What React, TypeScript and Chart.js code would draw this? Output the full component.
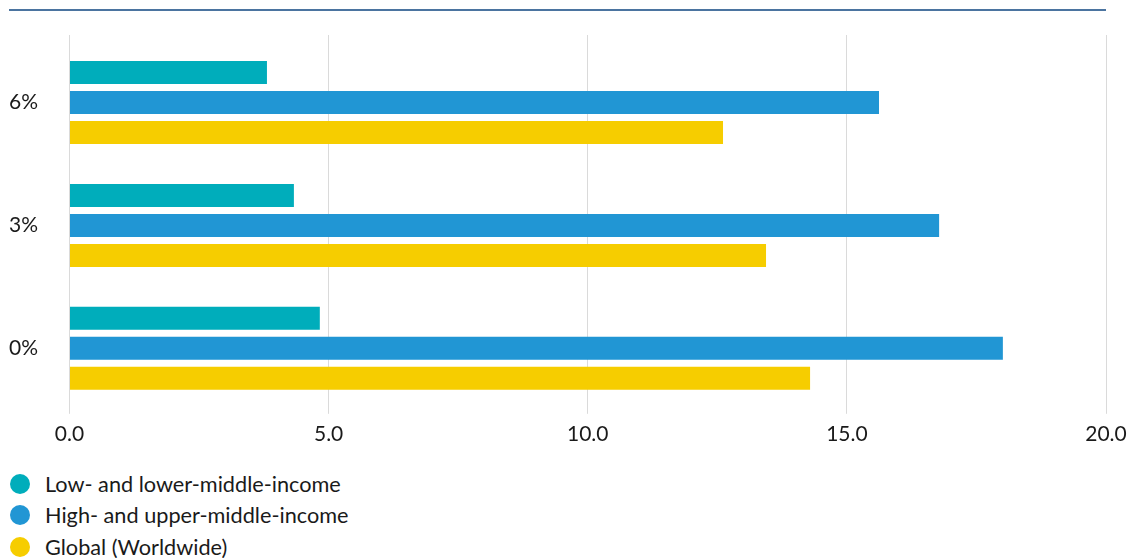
import React, { useEffect, useRef } from 'react';
import { Chart, registerables } from 'chart.js';

Chart.register(...registerables);

const categories = ['6%', '3%', '0%'];
const seriesNames = [
  'Low- and lower-middle-income',
  'High- and upper-middle-income',
  'Global (Worldwide)',
];
const lowIncome = [3.81, 4.33, 4.83];
const highIncome = [15.62, 16.78, 18.01];
const globalValues = [12.61, 13.44, 14.29];
const seriesColors = ['#00adbb', '#2196d4', '#f6cd00'];

const FONT = 'Lato, "Noto Sans", sans-serif';
const TEXT = '#1a1a1a';
const GRID = '#dadada';
const FS = 21;

export default function App() {
  const ref = useRef<HTMLCanvasElement>(null);

  useEffect(() => {
    document.body.style.margin = '0';
    const values = [lowIncome, highIncome, globalValues];
    const chart = new Chart(ref.current!, {
      type: 'bar',
      data: {
        labels: categories,
        datasets: seriesNames.map((name, i) => ({
          label: name,
          data: values[i],
          backgroundColor: seriesColors[i],
          borderWidth: 0,
          categoryPercentage: 0.7317,
          barPercentage: 0.7667,
        })),
      },
      options: {
        indexAxis: 'y',
        responsive: false,
        animation: false,
        layout: { padding: { top: 35, left: 9, right: 22, bottom: 10 } },
        plugins: { legend: { display: false }, tooltip: { enabled: false } },
        scales: {
          x: {
            type: 'linear',
            position: 'bottom',
            min: 0,
            max: 20,
            ticks: {
              stepSize: 5,
              padding: 8,
              color: TEXT,
              font: { family: FONT, size: FS },
              callback: (v: any) => Number(v).toFixed(1),
            },
            grid: { color: GRID, tickColor: GRID, tickLength: 4, lineWidth: 1 },
            border: { display: false },
            afterFit: (s: any) => {
              s.paddingRight = 0;
              s.paddingLeft = 0;
            },
          },
          x2: {
            type: 'linear',
            axis: 'x',
            position: 'top',
            min: 0,
            max: 20,
            ticks: { display: false, stepSize: 5 },
            grid: { drawOnChartArea: false, color: GRID, tickColor: GRID, tickLength: 6, lineWidth: 1 },
            border: { display: false },
          },
          y: {
            ticks: {
              crossAlign: 'far',
              padding: 0,
              color: TEXT,
              font: { family: FONT, size: FS },
            },
            grid: { display: false },
            border: { display: false },
            afterFit: (s: any) => {
              s.width = 60.5;
            },
          },
        },
      },
    });
    return () => chart.destroy();
  }, []);

  return (
    <div style={{ position: 'relative', width: 1128, height: 558, fontFamily: FONT, color: TEXT, overflow: 'hidden' }}>
      <div style={{ position: 'absolute', left: 9, top: 9, width: 1097, height: 2, background: '#4b74a0' }} />
      <canvas ref={ref} width={1128} height={465} style={{ position: 'absolute', left: 0, top: 0 }} />
      {seriesNames.map((name, i) => (
        <div
          key={name}
          style={{
            position: 'absolute',
            left: 10,
            top: 468 + i * 31.5,
            height: 31,
            display: 'flex',
            alignItems: 'center',
            fontSize: 21.7,
            whiteSpace: 'nowrap',
          }}
        >
          <span
            style={{
              display: 'inline-block',
              width: 20,
              height: 20,
              borderRadius: '50%',
              background: seriesColors[i],
              marginRight: 15,
            }}
          />
          <span>{name}</span>
        </div>
      ))}
    </div>
  );
}
